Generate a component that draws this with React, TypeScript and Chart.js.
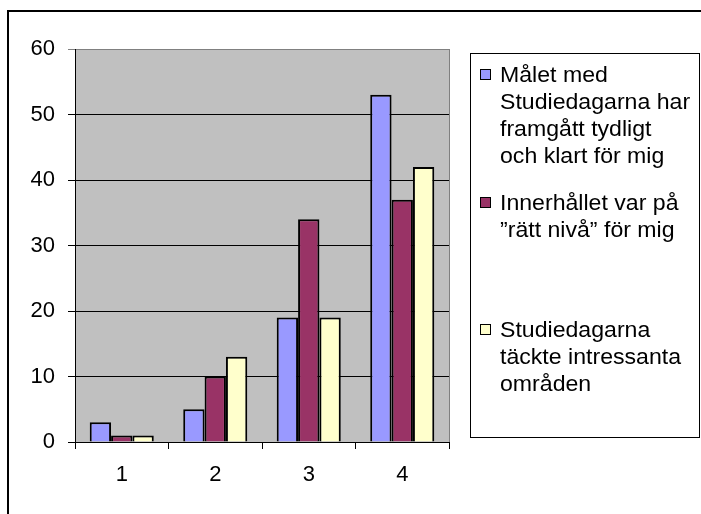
import React, { useEffect, useRef } from "react";
import { Chart, registerables } from "chart.js";

Chart.register(...registerables);

const categories = ["1", "2", "3", "4"];
const seriesNames: string[][] = [
  ["Målet med", "Studiedagarna har", "framgått tydligt", "och klart för mig"],
  ["Innerhållet var på", "”rätt nivå” för mig"],
  ["Studiedagarna", "täckte intressanta", "områden"],
];
const seriesA = [3, 5, 19, 53];
const seriesB = [1, 10, 34, 37];
const seriesC = [1, 13, 19, 42];
const seriesColors = ["#9999FF", "#993366", "#FFFFCC"];
const yTicks = [0, 10, 20, 30, 40, 50, 60];

const FONT = '"Liberation Sans", Arial, sans-serif';

const framePlugin = {
  id: "frame",
  beforeDraw(chart: any) {
    const { ctx, chartArea } = chart;
    ctx.save();
    ctx.fillStyle = "#ffffff";
    ctx.fillRect(0, 0, chart.width, chart.height);
    // outer chart border (clipped by window)
    ctx.fillStyle = "#000000";
    ctx.fillRect(7, 10, 2, chart.height - 10);
    ctx.fillRect(7, 10, chart.width - 7, 2);
    // plot area background
    ctx.fillStyle = "#C0C0C0";
    ctx.fillRect(chartArea.left, chartArea.top, chartArea.right - chartArea.left, chartArea.bottom - chartArea.top);
    ctx.restore();
  },
  afterDatasetsDraw(chart: any) {
    const { ctx, chartArea } = chart;
    ctx.save();
    ctx.strokeStyle = "#808080";
    ctx.lineWidth = 1;
    ctx.beginPath();
    ctx.moveTo(chartArea.right + 0.5, chartArea.top);
    ctx.lineTo(chartArea.right + 0.5, chartArea.bottom);
    ctx.stroke();
    ctx.restore();
  },
  afterDraw(chart: any) {
    const { ctx } = chart;
    ctx.save();
    // legend box
    ctx.strokeStyle = "#000000";
    ctx.lineWidth = 1;
    ctx.strokeRect(470.5, 53.5, 229, 384);
    ctx.font = `22px ${FONT}`;
    ctx.textBaseline = "alphabetic";
    ctx.textAlign = "left";
    seriesNames.forEach((lines, i) => {
      const base = 82 + i * 127.5;
      // swatch
      ctx.fillStyle = seriesColors[i];
      ctx.fillRect(480, Math.round(base) - 13, 11, 11);
      ctx.strokeStyle = "#000000";
      ctx.lineWidth = 1;
      ctx.strokeRect(480.5, Math.round(base) - 12.5, 10, 10);
      ctx.fillStyle = "#000000";
      lines.forEach((line, j) => {
        ctx.save();
        ctx.translate(500, Math.round(base + j * 27));
        ctx.scale(1.05, 1);
        ctx.fillText(line, 0, 0);
        ctx.restore();
      });
    });
    ctx.restore();
  },
};

export default function App() {
  const ref = useRef<HTMLCanvasElement | null>(null);
  useEffect(() => {
    if (!ref.current) return;
    const mk = (data: number[], i: number) => ({
      label: seriesNames[i].join(" "),
      data,
      backgroundColor: seriesColors[i],
      borderColor: "#000000",
      borderWidth: 2,
      categoryPercentage: 0.685,
      barPercentage: 1,
    });
    const chart = new Chart(ref.current, {
      type: "bar",
      data: {
        labels: categories,
        datasets: [mk(seriesA, 0), mk(seriesB, 1), mk(seriesC, 2)],
      },
      plugins: [framePlugin],
      options: {
        animation: false,
        responsive: false,
        layout: { padding: { left: 0, top: 49, right: 252, bottom: 0 } },
        plugins: { legend: { display: false }, tooltip: { enabled: false } },
        scales: {
          x: {
            offset: true,
            grid: {
              offset: true,
              drawOnChartArea: false,
              drawTicks: true,
              tickLength: 7,
              color: "#000000",
            },
            border: { display: true, color: "#000000" },
            ticks: { color: "#000000", font: { family: FONT, size: 22 }, padding: 13 },
            afterFit: (s: any) => {
              s.height = 72;
            },
          },
          y: {
            min: 0,
            max: 60,
            afterBuildTicks: (s: any) => {
              s.ticks = yTicks.map((v) => ({ value: v }));
            },
            grid: {
              color: (c: any) => (c.tick && c.tick.value === 60 ? "#808080" : "#000000"),
              tickLength: 7,
              lineWidth: 1,
            },
            border: { display: true, color: "#000000" },
            ticks: { color: "#000000", font: { family: FONT, size: 22 }, padding: 13 },
            afterFit: (s: any) => {
              s.width = 75;
            },
          },
        },
      },
    });
    return () => chart.destroy();
  }, []);
  return (
    <div style={{ position: "absolute", left: 0, top: 0, width: 701, height: 514, background: "#fff" }}>
      <canvas ref={ref} width={701} height={514} style={{ display: "block" }} />
    </div>
  );
}
